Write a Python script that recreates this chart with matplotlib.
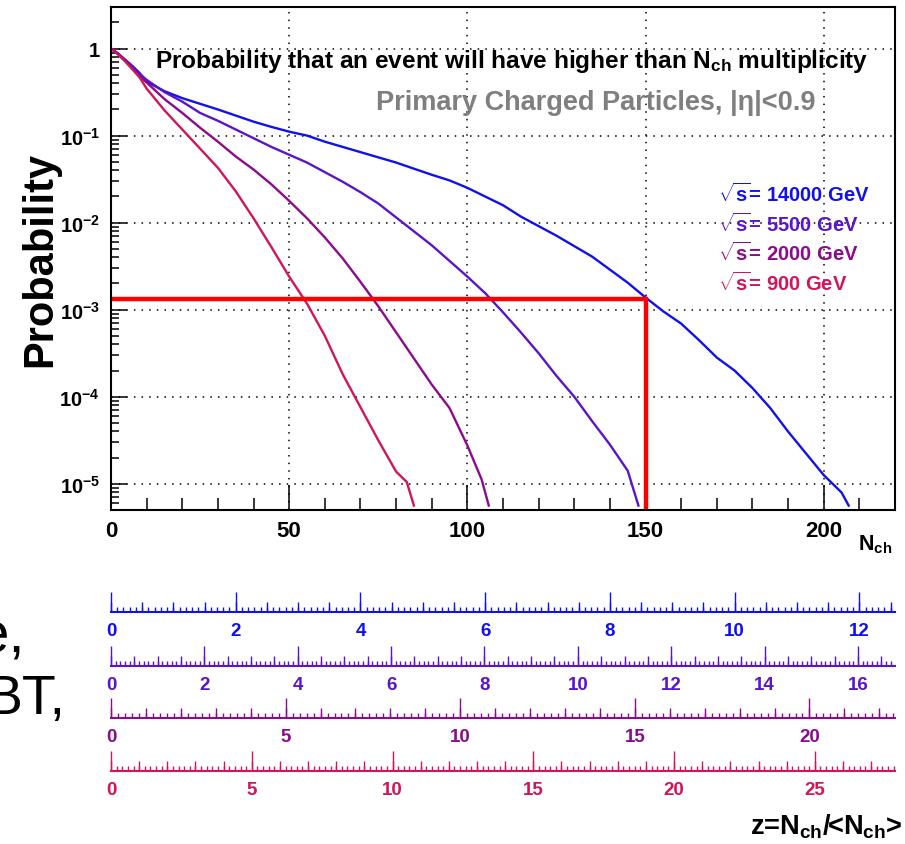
import numpy as np
import matplotlib.pyplot as plt
from matplotlib.ticker import MultipleLocator, LogLocator, FuncFormatter, NullFormatter

plt.rcParams['font.family'] = ['Liberation Sans', 'DejaVu Sans']
plt.rcParams['font.weight'] = 'bold'
plt.rcParams['mathtext.fontset'] = 'custom'
plt.rcParams['mathtext.rm'] = 'Liberation Sans:bold'
plt.rcParams['mathtext.bf'] = 'Liberation Sans:bold'
plt.rcParams['mathtext.it'] = 'Liberation Sans:bold'
plt.rcParams['mathtext.default'] = 'bf'

# values: log10 P(N > Nch)
n_14000 = [0, 2, 4, 6, 8, 10, 15, 20, 25, 30, 35, 40, 45, 50, 55, 60, 65, 70, 75, 80, 85, 90, 95, 100,
           105, 110, 115, 120, 125, 130, 135, 140, 145, 150, 155, 160, 165, 170, 175, 180, 185, 190,
           195, 200, 205, 207]
logp_14000 = [0, -0.06, -0.13, -0.20, -0.28, -0.38, -0.49, -0.57, -0.635, -0.70, -0.77, -0.84, -0.90,
              -0.955, -1.00, -1.07, -1.13, -1.19, -1.25, -1.31, -1.38, -1.45, -1.515, -1.60, -1.70,
              -1.80, -1.93, -2.04, -2.15, -2.27, -2.39, -2.54, -2.69, -2.86, -3.02, -3.16, -3.35,
              -3.55, -3.70, -3.90, -4.13, -4.40, -4.65, -4.90, -5.10, -5.25]

n_5500 = [0, 2, 4, 6, 8, 10, 15, 20, 25, 30, 35, 40, 45, 50, 55, 60, 65, 70, 75, 80, 85, 90, 95, 100,
          105, 110, 115, 120, 125, 130, 135, 140, 145, 148]
logp_5500 = [0, -0.06, -0.13, -0.21, -0.29, -0.36, -0.50, -0.61, -0.74, -0.83, -0.93, -1.03, -1.13,
             -1.22, -1.31, -1.42, -1.53, -1.65, -1.78, -1.94, -2.10, -2.26, -2.44, -2.62, -2.81, -3.03,
             -3.26, -3.50, -3.76, -4.00, -4.28, -4.55, -4.85, -5.25]

n_2000 = [0, 2, 4, 6, 8, 10, 15, 20, 25, 30, 35, 40, 45, 50, 55, 60, 65, 70, 75, 80, 85, 90, 95, 100,
          104, 106]
logp_2000 = [0, -0.06, -0.14, -0.23, -0.32, -0.39, -0.58, -0.74, -0.91, -1.07, -1.24, -1.39, -1.56,
             -1.75, -1.95, -2.17, -2.41, -2.68, -2.96, -3.26, -3.56, -3.86, -4.13, -4.56, -4.95, -5.25]

n_900 = [0, 2, 4, 6, 8, 10, 15, 20, 25, 30, 35, 40, 45, 50, 55, 60, 65, 70, 75, 80, 83, 85]
logp_900 = [0, -0.07, -0.15, -0.24, -0.33, -0.46, -0.71, -0.93, -1.15, -1.37, -1.64, -1.95, -2.28,
            -2.62, -2.93, -3.30, -3.74, -4.12, -4.50, -4.86, -4.98, -5.25]

energies = ['14000', '5500', '2000', '900']
colors = ['#1010f0', '#5a14cc', '#8c0a8c', '#d2145a']

# mean multiplicity used for the z = Nch/<Nch> rulers
mean_nch = [17.5, 13.1, 9.8, 7.9]
ruler_major = [2, 2, 5, 5]
ruler_mid = [0.5, 0.5, 1, 1]
ruler_minor = [0.1, 0.1, 0.2, 0.2]

cut_n = 150
cut_p = 1.34e-3

W, H = 905, 845
fig = plt.figure(figsize=(W / 100, H / 100), dpi=100)
ax = fig.add_axes([111 / W, 1 - 511 / H, 784 / W, 503 / H])

curves = [(n_14000, logp_14000), (n_5500, logp_5500), (n_2000, logp_2000), (n_900, logp_900)]
for (n, lp), c in zip(curves, colors):
    ax.plot(n, 10 ** np.array(lp), color=c, lw=1.7)

ax.set_yscale('log')
ax.set_xlim(0, 220)
ax.set_ylim(5e-6, 3)
ymin = ax.get_ylim()[0]
ax.plot([0, cut_n, cut_n], [cut_p, cut_p, ymin], color='red', lw=3.2, solid_joinstyle='miter')

ax.xaxis.set_major_locator(MultipleLocator(50))
ax.xaxis.set_minor_locator(MultipleLocator(10))
ax.yaxis.set_major_locator(LogLocator(base=10))
ax.yaxis.set_minor_locator(LogLocator(base=10, subs=np.arange(2, 10)))
ax.yaxis.set_minor_formatter(NullFormatter())
ax.yaxis.set_major_formatter(FuncFormatter(
    lambda v, _: '1' if abs(v - 1) < 1e-9 else r'$10^{%d}$' % round(np.log10(v))))
ax.tick_params(axis='x', which='major', direction='in', length=18, width=1.1, labelsize=16, pad=7)
ax.tick_params(axis='x', which='minor', direction='in', length=9, width=1.1)
ax.tick_params(axis='y', which='major', direction='in', length=11.5, width=1.1, labelsize=14.5, pad=8)
ax.tick_params(axis='y', which='minor', direction='in', length=5.8, width=1.1)
ax.grid(True, which='major', color='black', linestyle=(0, (1, 4)), lw=1.1)
for s in ax.spines.values():
    s.set_linewidth(1.5)

fig.text(20 / W, 0.6935, 'Probability', rotation=90, fontsize=30, ha='left', va='center')
fig.text(858 / W, (H - 550) / H, r'N$_{ch}$', fontsize=15.5, ha='left', va='baseline')
fig.text(155 / W, (H - 68) / H, r'Probability that an event will have higher than N$_{ch}$ multiplicity',
         fontsize=17.6, ha='left', va='baseline')
fig.text(815 / W, (H - 110) / H, 'Primary Charged Particles, |η|<0.9', fontsize=19.5,
         color='#7f7f7f', ha='right', va='baseline')
for i, (e, c) in enumerate(zip(energies, colors)):
    fig.text(718 / W, (H - 202 - 29.5 * i) / H, r'$\sqrt{s}$= ' + e + ' GeV', fontsize=14.5,
             color=c, ha='left', va='baseline')

# z rulers
baselines = [613, 667, 719, 772]
for yb, m, mj, md, mn, c in zip(baselines, mean_nch, ruler_major, ruler_mid, ruler_minor, colors):
    rect = [111 / W, (H - yb) / H, 784 / W, 0.03]
    zmax = 220 / m
    r = fig.add_axes(rect)
    r.patch.set_visible(False)
    for k in ['top', 'left', 'right']:
        r.spines[k].set_visible(False)
    r.spines['bottom'].set_color(c)
    r.spines['bottom'].set_linewidth(1.5)
    r.set_xlim(0, zmax)
    r.set_yticks([])
    r.xaxis.set_major_locator(MultipleLocator(mj))
    r.xaxis.set_minor_locator(MultipleLocator(mn))
    r.tick_params(axis='x', which='major', direction='in', length=14.4, width=1, color=c,
                  labelcolor=c, labelsize=13.5, pad=7)
    r.tick_params(axis='x', which='minor', direction='in', length=3.6, width=1, color=c)
    rm = fig.add_axes(rect)
    rm.patch.set_visible(False)
    for k in rm.spines:
        rm.spines[k].set_visible(False)
    rm.set_xlim(0, zmax)
    rm.set_yticks([])
    rm.xaxis.set_major_locator(MultipleLocator(md))
    rm.tick_params(axis='x', which='major', direction='in', length=7.2, width=1, color=c,
                   labelbottom=False)

fig.text(903 / W, (H - 835) / H, r'z=N$_{ch}$/<N$_{ch}$>', fontsize=19.5, ha='right', va='baseline')

# cropped slide text at the left edge
fig.text(25 / W, (H - 653) / H, 'e,', fontsize=42, fontweight='normal', ha='right', va='baseline')
fig.text(65 / W, (H - 714) / H, 'BT,', fontsize=40, fontweight='normal', ha='right', va='baseline')

fig.savefig('out.png', dpi=100)
